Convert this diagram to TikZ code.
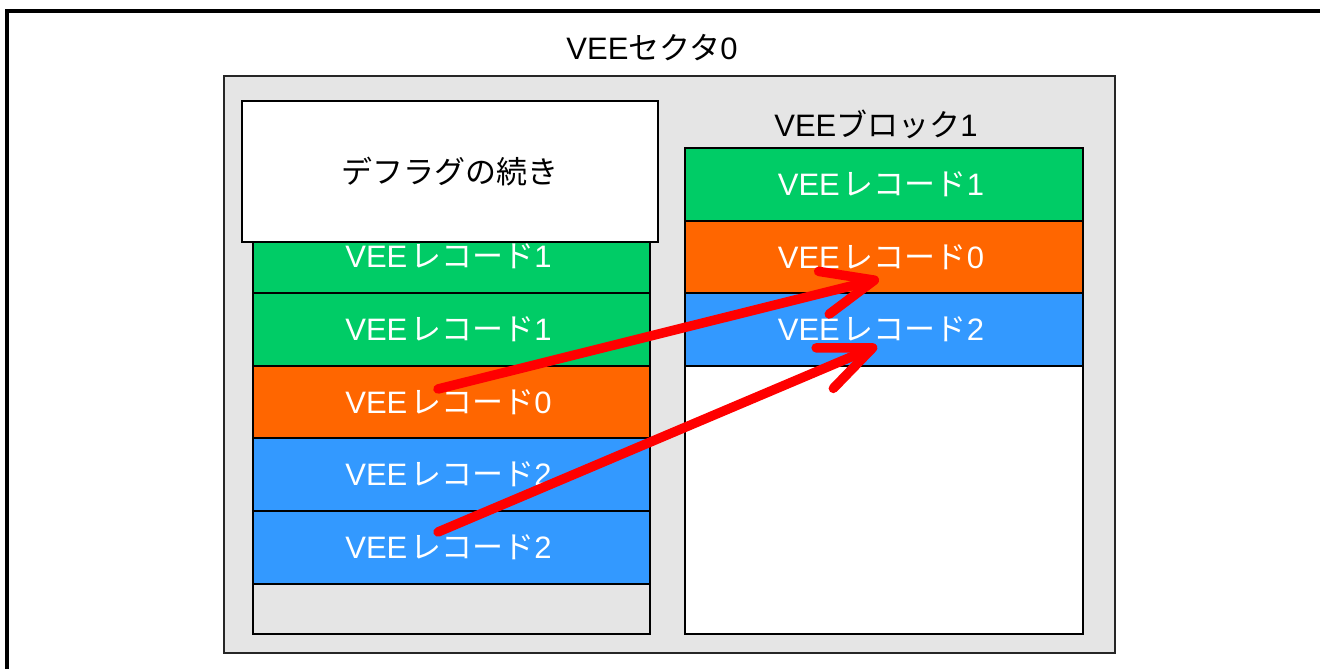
\documentclass[tikz,border=0pt]{standalone}
\usepackage{fontspec}
\newfontfamily\jp{Noto Sans CJK JP}
\newfontfamily\ls{Liberation Sans}
\usetikzlibrary{arrows.meta}
\definecolor{recgreen}{RGB}{0,204,102}
\definecolor{recorange}{RGB}{255,102,0}
\definecolor{recblue}{RGB}{51,153,255}
\definecolor{secgray}{RGB}{229,229,229}
\newcommand\veerec[1]{{\ls VEE}\kern3pt{\jp レコード}{\ls #1}\kern6pt}
\begin{document}
\begin{tikzpicture}[x=1pt,y=-1pt,
  sector/.style={draw=black!85, line width=1.6pt, fill=secgray, anchor=north west, inner sep=0pt, outer sep=0pt, minimum width=891pt, minimum height=577pt},
  colbox/.style={draw=black, line width=1.6pt, anchor=north west, inner sep=0pt, outer sep=0pt},
  rec/.style={draw=black, line width=1.6pt, anchor=north west, inner sep=0pt, outer sep=0pt, minimum height=73pt, text=white, font=\fontsize{31pt}{36pt}\selectfont},
  lbl/.style={inner sep=0pt, text=black, font=\fontsize{31pt}{36pt}\selectfont},
  redarrow/.style={draw=red, line width=9.5pt, line cap=round, line join=round, -{Straight Barb[length=52pt, width=44pt, line cap=round, line join=round]}}
]
\useasboundingbox (0,0) rectangle (1320,669);
\clip (0,0) rectangle (1320,669);
\node[draw=black, line width=4pt, anchor=north west, inner sep=0pt, outer sep=0pt, minimum width=1340pt, minimum height=680pt] (frame) at (7,11) {};
\node[sector] (sector) at (224,76) {};
\node[lbl] (t0) at (652,48) {{\ls VEE}{\jp セクタ}{\ls 0}};
% left column
\node[colbox, fill=secgray, minimum width=397pt, minimum height=414pt] (lcol) at (253,220) {};
\node[rec, fill=recgreen, minimum width=397pt] (l1) at (253,220) {\veerec{1}};
\node[rec, fill=recgreen, minimum width=397pt] (l2) at (253,293) {\veerec{1}};
\node[rec, fill=recorange, minimum width=397pt] (l3) at (253,366) {\veerec{0}};
\node[rec, fill=recblue, minimum width=397pt] (l4) at (253,438) {\veerec{2}};
\node[rec, fill=recblue, minimum width=397pt] (l5) at (253,511) {\veerec{2}};
\node[colbox, fill=white, minimum width=416pt, minimum height=141pt, font=\fontsize{31pt}{36pt}\selectfont\jp] (defrag) at (242,101) {デフラグの続き};
% right column
\node[lbl] (t1) at (876,124) {{\ls VEE}{\jp ブロック}{\ls 1}};
\node[colbox, fill=white, minimum width=398pt, minimum height=486pt] (rcol) at (685,148) {};
\node[rec, fill=recgreen, minimum width=398pt] (r1) at (685,148) {\veerec{1}};
\node[rec, fill=recorange, minimum width=398pt] (r2) at (685,221) {\veerec{0}};
\node[rec, fill=recblue, minimum width=398pt] (r3) at (685,293) {\veerec{2}};
% arrows
\coordinate (a1s) at (438,389);
\coordinate (a1e) at (879,279);
\coordinate (a2s) at (438,532);
\coordinate (a2e) at (877,346);
\draw[redarrow] (a1s) -- (a1e);
\draw[redarrow] (a2s) -- (a2e);
\end{tikzpicture}
\end{document}
